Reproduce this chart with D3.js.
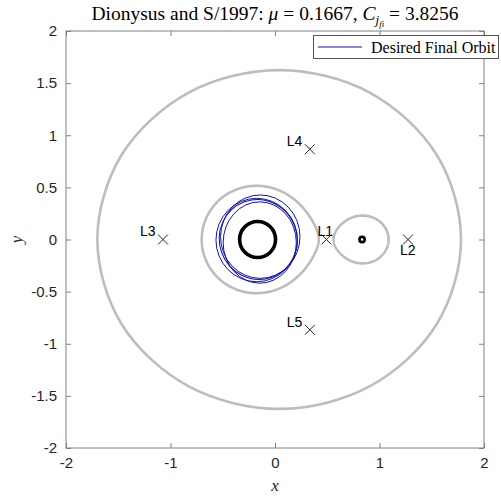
<!DOCTYPE html>
<html>
<head>
<meta charset="utf-8">
<script src="https://cdn.jsdelivr.net/npm/d3@7"></script>
<style>
  html, body { margin: 0; padding: 0; background: #fff; }
  svg { display: block; }
</style>
</head>
<body>
<svg id="chart" width="501" height="498"></svg>
<script>
// Circular restricted three-body problem parameters
const massRatio = 0.1667;
const jacobiC = 3.8256;

// Axis ticks
const xTicks = [-2, -1, 0, 1, 2];
const xTickLabels = ["-2", "-1", "0", "1", "2"];
const yTicks = [-2, -1.5, -1, -0.5, 0, 0.5, 1, 1.5, 2];
const yTickLabels = ["-2", "-1.5", "-1", "-0.5", "0", "0.5", "1", "1.5", "2"];

// Libration points
const lagrangeNames = ["L1", "L2", "L3", "L4", "L5"];
const lagrangeX = [0.492, 1.273, -1.072, 0.3333, 0.3333];
const lagrangeY = [0, 0, 0, 0.866, -0.866];

// Bodies (center x, drawn radius in canonical units)
const bodyX = [-massRatio, 1 - massRatio];
const bodyR = [0.172, 0.025];

// Outer zero-velocity boundary, sampled around the system
const outerX = [1.78, 1.547, 0.91, 0.04, -0.83, -1.467, -1.70, -1.467, -0.83, 0.04, 0.91, 1.547];
const outerY = [0, 0.8125, 1.407, 1.625, 1.407, 0.8125, 0, -0.8125, -1.407, -1.625, -1.407, -0.8125];

// Desired final orbit: successive revolutions as ellipses
const loopCx = [-0.175, -0.141, -0.146, -0.160];
const loopCy = [-0.005, 0.027, -0.029, 0.000];
const loopA = [0.390, 0.380, 0.350, 0.372];
const loopB = [0.400, 0.400, 0.390, 0.385];
const loopTilt = [0, 0, 0, 20];

const svg = d3.select("#chart");
const pL = 66, pR = 484, pT = 31, pB = 448;

const xs = d3.scaleLinear().domain([-2, 2]).range([pL, pR]);
const ys = d3.scaleLinear().domain([-2, 2]).range([pB, pT]);

const axisColor = "#808080";
const textColor = "#262626";
const zvcColor = "#bdbdbd";

svg.append("defs").append("clipPath").attr("id", "plotClip")
  .append("rect").attr("x", pL).attr("y", pT)
  .attr("width", pR - pL).attr("height", pB - pT);

const plot = svg.append("g").attr("clip-path", "url(#plotClip)");

// Zero-velocity curves around the two bodies: contour of 2*Omega(x,y) = C
const g0 = -1.2, step = 0.005, n = 481;
const values = new Array(n * n);
for (let j = 0; j < n; j++) {
  const yy = g0 + j * step;
  for (let i = 0; i < n; i++) {
    const xx = g0 + i * step;
    const r1 = Math.hypot(xx + massRatio, yy);
    const r2 = Math.hypot(xx - 1 + massRatio, yy);
    values[j * n + i] = xx * xx + yy * yy + 2 * (1 - massRatio) / r1 + 2 * massRatio / r2;
  }
}
const contour = d3.contours().size([n, n]).thresholds([jacobiC])(values)[0];
// keep only the closed ovals (drop anything touching the grid border)
const ovalRings = [];
contour.coordinates.forEach(poly => poly.forEach(ring => {
  const xsR = ring.map(p => p[0]), ysR = ring.map(p => p[1]);
  const touches = d3.min(xsR) <= 0.5 || d3.min(ysR) <= 0.5 || d3.max(xsR) >= n - 0.5 || d3.max(ysR) >= n - 0.5;
  if (!touches) ovalRings.push([ring]);
}));
const gridProj = d3.geoTransform({
  point(px, py) {
    this.stream.point(xs(g0 + (px - 0.5) * step), ys(g0 + (py - 0.5) * step));
  }
});
plot.append("path")
  .attr("d", d3.geoPath(gridProj)({ type: "MultiPolygon", coordinates: ovalRings }))
  .attr("fill", "none")
  .attr("stroke", zvcColor)
  .attr("stroke-width", 2.6)
  .attr("stroke-linejoin", "round");

// Outer boundary
plot.append("path")
  .datum(d3.range(outerX.length))
  .attr("d", d3.line().x(i => xs(outerX[i])).y(i => ys(outerY[i])).curve(d3.curveCatmullRomClosed.alpha(0.5)))
  .attr("fill", "none")
  .attr("stroke", zvcColor)
  .attr("stroke-width", 2.6);

// Desired final orbit
const sx = xs(1) - xs(0), sy = ys(0) - ys(1);
plot.selectAll("ellipse.orbit")
  .data(d3.range(loopCx.length))
  .join("ellipse")
  .attr("class", "orbit")
  .attr("cx", 0).attr("cy", 0)
  .attr("rx", i => loopA[i] * sx)
  .attr("ry", i => loopB[i] * sy)
  .attr("transform", i => `translate(${xs(loopCx[i])},${ys(loopCy[i])}) rotate(${-loopTilt[i]})`)
  .attr("fill", "none")
  .attr("stroke", "#1010b0")
  .attr("stroke-width", 1);

// Primary and secondary bodies
plot.selectAll("circle.body")
  .data(d3.range(bodyX.length))
  .join("circle")
  .attr("class", "body")
  .attr("cx", i => xs(bodyX[i]))
  .attr("cy", ys(0))
  .attr("r", i => bodyR[i] * sx)
  .attr("fill", "none")
  .attr("stroke", "#000")
  .attr("stroke-width", i => i === 0 ? 3.6 : 2.6);

// Libration point markers
const mk = 5;
plot.selectAll("path.lp")
  .data(d3.range(lagrangeNames.length))
  .join("path")
  .attr("class", "lp")
  .attr("transform", i => `translate(${xs(lagrangeX[i])},${ys(lagrangeY[i])})`)
  .attr("d", `M${-mk},${-mk}L${mk},${mk}M${-mk},${mk}L${mk},${-mk}`)
  .attr("stroke", "#222")
  .attr("stroke-width", 1)
  .attr("fill", "none");

// Label placement relative to each marker (pixels)
const labelShift = [[-9, -8], [-8, 11], [-23, -8], [-23, -8], [-23, -8]];
svg.selectAll("text.lpLabel")
  .data(d3.range(lagrangeNames.length))
  .join("text")
  .attr("class", "lpLabel")
  .attr("x", i => xs(lagrangeX[i]) + labelShift[i][0])
  .attr("y", i => ys(lagrangeY[i]) + labelShift[i][1])
  .attr("dy", "0.35em")
  .attr("font-family", "Liberation Sans, Arial, sans-serif")
  .attr("font-size", 14)
  .attr("fill", "#000")
  .text(i => lagrangeNames[i]);

// Axes frame and ticks
const tick = 5;
const axesG = svg.append("g");
axesG.append("rect")
  .attr("x", pL).attr("y", pT)
  .attr("width", pR - pL).attr("height", pB - pT)
  .attr("fill", "none").attr("stroke", axisColor).attr("stroke-width", 1);

const xAxisB = d3.axisBottom(xs).tickValues(xTicks).tickSizeInner(-tick).tickSizeOuter(0).tickPadding(9)
  .tickFormat((d, i) => xTickLabels[i]);
const xAxisT = d3.axisTop(xs).tickValues(xTicks).tickSizeInner(-tick).tickSizeOuter(0).tickFormat("");
const yAxisL = d3.axisLeft(ys).tickValues(yTicks).tickSizeInner(-tick).tickSizeOuter(0).tickPadding(9)
  .tickFormat((d, i) => yTickLabels[i]);
const yAxisR = d3.axisRight(ys).tickValues(yTicks).tickSizeInner(-tick).tickSizeOuter(0).tickFormat("");

function styleAxis(g) {
  g.select(".domain").remove();
  g.selectAll(".tick line").attr("stroke", axisColor);
  g.selectAll(".tick text")
    .attr("font-family", "Liberation Sans, Arial, sans-serif")
    .attr("font-size", 15)
    .attr("fill", textColor);
}
axesG.append("g").attr("transform", `translate(0,${pB})`).call(xAxisB).call(styleAxis);
axesG.append("g").attr("transform", `translate(0,${pT})`).call(xAxisT).call(styleAxis);
axesG.append("g").attr("transform", `translate(${pL},0)`).call(yAxisL).call(styleAxis);
axesG.append("g").attr("transform", `translate(${pR},0)`).call(yAxisR).call(styleAxis);

// Axis labels
const serif = "Liberation Serif, Times New Roman, serif";
svg.append("text")
  .attr("x", (pL + pR) / 2).attr("y", 491)
  .attr("text-anchor", "middle")
  .attr("font-family", serif).attr("font-style", "italic").attr("font-size", 17)
  .attr("fill", textColor).text("x");
svg.append("text")
  .attr("transform", `translate(22,${(pT + pB) / 2}) rotate(-90)`)
  .attr("text-anchor", "middle")
  .attr("font-family", serif).attr("font-style", "italic").attr("font-size", 17)
  .attr("fill", textColor).text("y");

// Title
const title = svg.append("text")
  .attr("x", (pL + pR) / 2).attr("y", 20)
  .attr("text-anchor", "middle")
  .attr("font-family", serif).attr("font-size", 19.5)
  .attr("fill", "#000");
title.append("tspan").text("Dionysus and S/1997: ");
title.append("tspan").attr("font-style", "italic").text("μ");
title.append("tspan").text(" = 0.1667, ");
title.append("tspan").attr("font-style", "italic").text("C");
title.append("tspan").attr("font-style", "italic").attr("font-size", 13).attr("dy", 4).text("j");
title.append("tspan").attr("font-style", "italic").attr("font-size", 9).attr("dy", 3).text("fi");
title.append("tspan").attr("dy", -7).text(" = 3.8256");

// Legend
const lg = svg.append("g");
lg.append("rect")
  .attr("x", 313.5).attr("y", 35.5).attr("width", 185).attr("height", 23)
  .attr("fill", "#fff").attr("stroke", "#555").attr("stroke-width", 1);
lg.append("line")
  .attr("x1", 318).attr("x2", 362).attr("y1", 47).attr("y2", 47)
  .attr("stroke", "#1010b0").attr("stroke-width", 1);
lg.append("text")
  .attr("x", 371).attr("y", 47).attr("dy", "0.35em")
  .attr("font-family", serif).attr("font-size", 16)
  .attr("fill", "#000").text("Desired Final Orbit");
</script>
</body>
</html>
